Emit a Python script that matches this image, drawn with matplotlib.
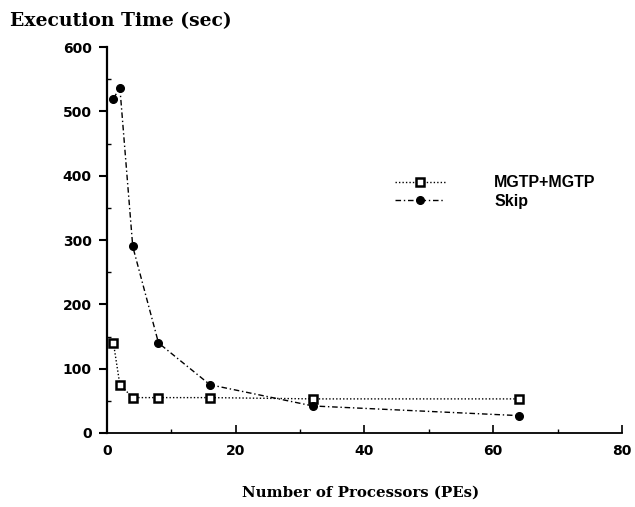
import numpy as np
import matplotlib
matplotlib.use("Agg")
import matplotlib.pyplot as plt
from matplotlib.ticker import MultipleLocator

# данные
pes = [1, 2, 4, 8, 16, 32, 64]
mgtp_time = [140, 75, 55, 55, 55, 53, 53]
skip_time = [520, 537, 290, 140, 75, 42, 27]

fig = plt.figure(figsize=(6.35, 5.07), dpi=100)
ax = fig.add_axes([0.1685, 0.146, 0.811, 0.761])

ax.plot(pes, mgtp_time, color='black', linestyle=(0, (1, 1.5)), linewidth=1,
        marker='s', markersize=6, markerfacecolor='white', markeredgewidth=1.8,
        label='MGTP+MGTP')
ax.plot(pes, skip_time, color='black', linestyle=(0, (4, 2, 1, 2)), linewidth=1,
        marker='o', markersize=5.5, label='Skip')

ax.set_xlim(0, 80)
ax.set_ylim(0, 600)
ax.xaxis.set_major_locator(MultipleLocator(20))
ax.xaxis.set_minor_locator(MultipleLocator(10))
ax.yaxis.set_major_locator(MultipleLocator(100))
ax.yaxis.set_minor_locator(MultipleLocator(50))
ax.spines['top'].set_visible(False)
ax.spines['right'].set_visible(False)
ax.spines['left'].set_linewidth(1.6)
ax.spines['bottom'].set_linewidth(1.3)
ax.tick_params(axis='y', which='major', direction='out', length=6, width=1.5, pad=5)
ax.tick_params(axis='y', which='minor', direction='in', length=3, width=1)
ax.tick_params(axis='x', which='major', direction='in', length=6, width=1.2, pad=8)
ax.tick_params(axis='x', which='minor', direction='in', length=3, width=1)

for lbl in ax.get_xticklabels() + ax.get_yticklabels():
    lbl.set_fontfamily('DejaVu Sans')
    lbl.set_fontweight('bold')
    lbl.set_fontsize(10)

fig.text(0.016, 0.958, 'Execution Time (sec)', fontfamily='DejaVu Serif',
         fontweight='bold', fontsize=13.5, ha='left', va='center')
fig.text(0.568, 0.028, 'Number of Processors (PEs)', fontfamily='DejaVu Serif',
         fontweight='bold', fontsize=10.8, ha='center', va='center')

ax.legend(loc='upper left', bbox_to_anchor=(0.532, 0.705), frameon=False,
          handlelength=3.1, handletextpad=3.1, labelspacing=0.2,
          prop={'family': 'Liberation Sans', 'weight': 'bold', 'size': 11.5})

fig.savefig('out.png', dpi=100)
